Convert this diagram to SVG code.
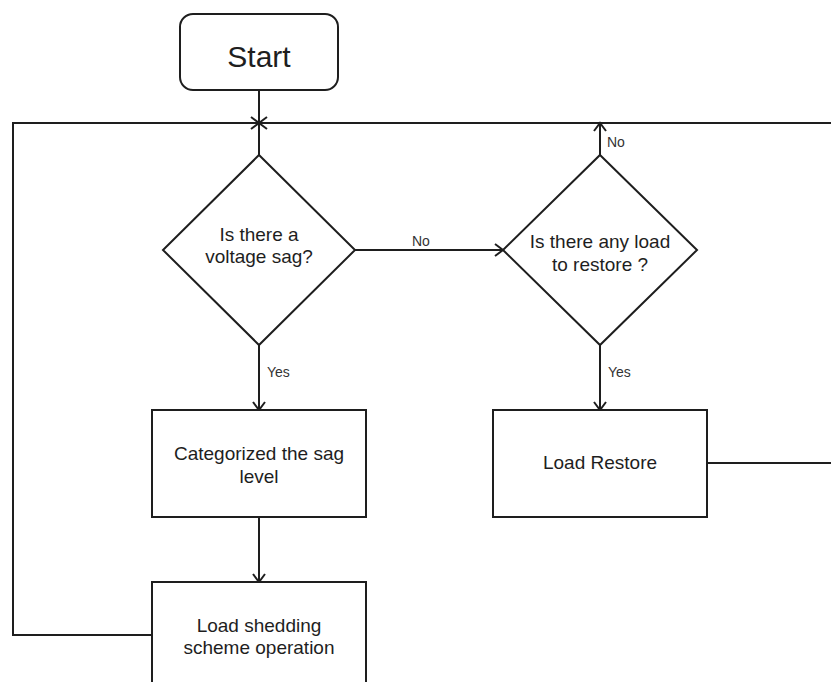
<svg xmlns="http://www.w3.org/2000/svg" width="831" height="682" viewBox="0 0 831 682">
<defs>
<style>
.shape{fill:#ffffff;stroke:#1e1e1e;stroke-width:2}
.conn{fill:none;stroke:#1e1e1e;stroke-width:2}
.t{font-family:"Liberation Sans",Arial,sans-serif;font-size:19px;fill:#1e1e1e;text-anchor:middle}
.lbl{font-family:"Liberation Sans",Arial,sans-serif;font-size:14px;fill:#333333}
</style>
<marker id="arr" markerUnits="userSpaceOnUse" markerWidth="16" markerHeight="16" viewBox="0 0 16 16" refX="14" refY="8" orient="auto">
<path d="M6,2 L14,8 L6,14" fill="none" stroke="#1e1e1e" stroke-width="2"/>
</marker>
</defs>
<rect width="831" height="682" fill="#ffffff"/>
<g id="connectors">
<path class="conn" d="M259,90 V155"/>
<path class="conn" d="M152,635 H13 V123 H259" marker-end="url(#arr)"/>
<path class="conn" d="M707,463 H850 V123 H259" marker-end="url(#arr)"/>
<path class="conn" d="M600,155 V123" marker-end="url(#arr)"/>
<path class="conn" d="M355,250 H503" marker-end="url(#arr)"/>
<path class="conn" d="M259,345 V410" marker-end="url(#arr)"/>
<path class="conn" d="M600,345 V410" marker-end="url(#arr)"/>
<path class="conn" d="M259,517 V582" marker-end="url(#arr)"/>
<text class="lbl" x="412" y="246">No</text>
<text class="lbl" x="607" y="147">No</text>
<text class="lbl" x="267" y="377">Yes</text>
<text class="lbl" x="608" y="377">Yes</text>
</g>
<g id="start">
<rect class="shape" x="180" y="14" width="158" height="76" rx="13" ry="13"/>
<text class="t" x="259" y="67" style="font-size:30px">Start</text>
</g>
<g id="sag-decision">
<polygon class="shape" points="259,155 355,250 259,345 163,250"/>
<text class="t" x="259" y="241">Is there a</text>
<text class="t" x="259" y="263">voltage sag?</text>
</g>
<g id="restore-decision">
<polygon class="shape" points="600,155 697,250 600,345 503,250"/>
<text class="t" x="600" y="248">Is there any load</text>
<text class="t" x="600" y="271">to restore ?</text>
</g>
<g id="categorize">
<rect class="shape" x="152" y="410" width="214" height="107"/>
<text class="t" x="259" y="460">Categorized the sag</text>
<text class="t" x="259" y="483">level</text>
</g>
<g id="load-restore">
<rect class="shape" x="493" y="410" width="214" height="107"/>
<text class="t" x="600" y="469">Load Restore</text>
</g>
<g id="load-shedding">
<rect class="shape" x="152" y="582" width="214" height="120"/>
<text class="t" x="259" y="632">Load shedding</text>
<text class="t" x="259" y="654">scheme operation</text>
</g>
</svg>
